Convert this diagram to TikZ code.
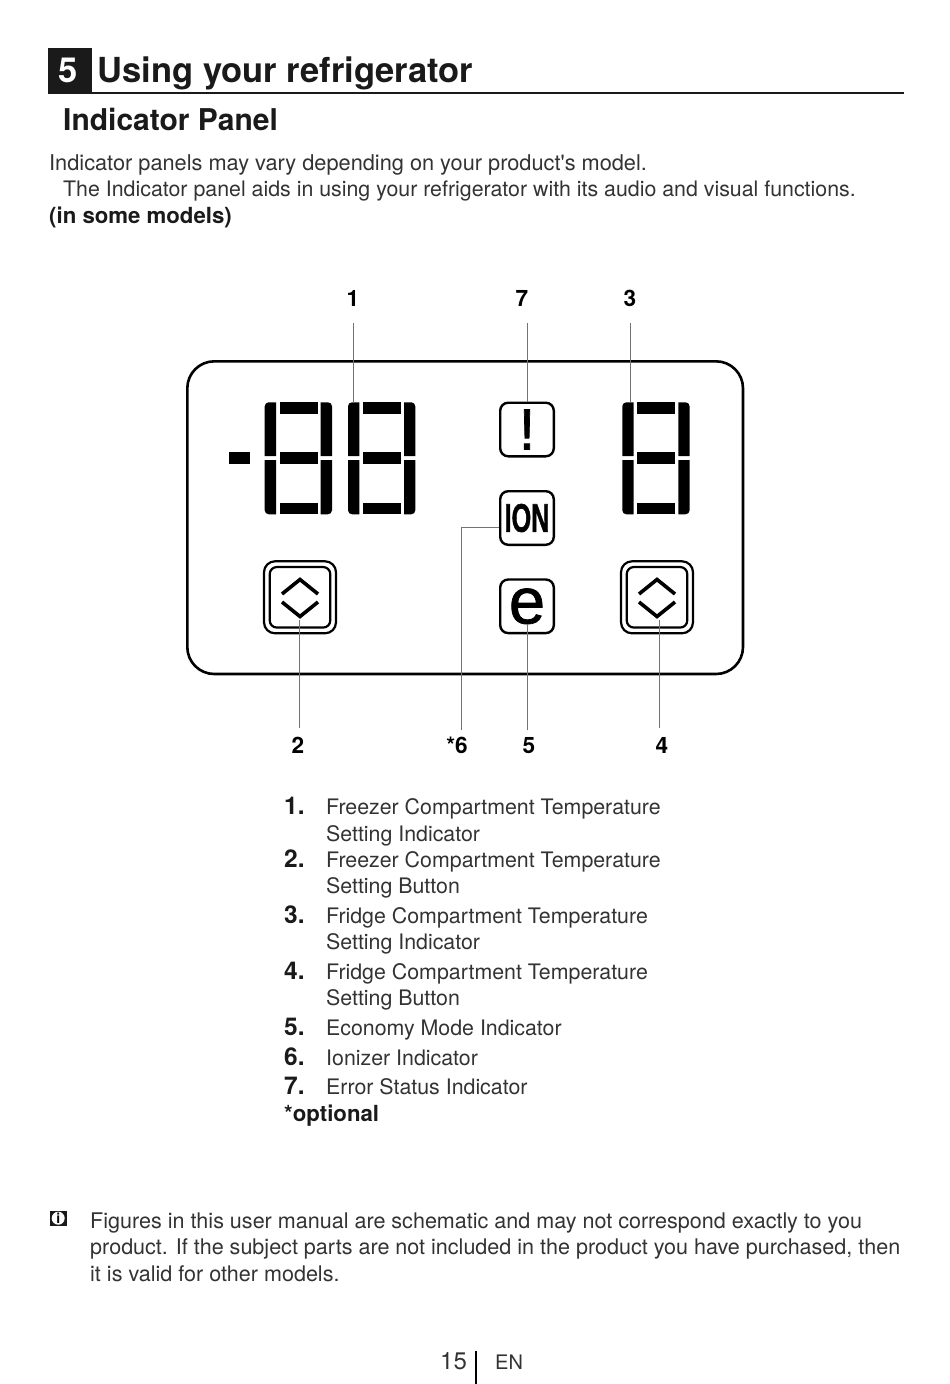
\documentclass[tikz,border=0pt]{standalone}
\usepackage{fontspec}
\setmainfont[Ligatures=TeXOff]{TeX Gyre Heros}
\newfontfamily\iconfont[FakeBold=1.2]{Liberation Sans}
\newfontfamily\ionfont[FakeBold=1.5]{Liberation Sans Bold}
\definecolor{inktext}{HTML}{333333}
\definecolor{inkdark}{HTML}{1A1A1A}
\tikzset{
  pagetext/.style={anchor=base west,inner sep=0pt,text=inktext,font=\fontsize{21.55}{24}\selectfont},
  listtext/.style={pagetext,font=\fontsize{21.35}{24}\selectfont},
  boldtext/.style={anchor=base west,inner sep=0pt,text=inkdark,font=\fontsize{22.2}{24}\selectfont\bfseries},
  numtext/.style={anchor=base west,inner sep=0pt,text=inkdark,font=\fontsize{24.5}{26}\selectfont\bfseries},
  calloutnum/.style={anchor=base,inner sep=0pt,text=black,font=\fontsize{22.6}{24}\selectfont\bfseries},
  iconbox/.style={draw=black,line width=2.4pt,rounded corners=8pt,minimum size=53.6pt,inner sep=0pt,outer sep=0pt},
  leader/.style={draw=black!55,line width=0.9pt},
  paneledge/.style={draw=black,line width=2.6pt,rounded corners=27pt}
}
\begin{document}
\begin{tikzpicture}[x=1pt,y=-1pt]
  \useasboundingbox (0,0) rectangle (950,1384);
  \fill[white] (0,0) rectangle (950,1384);
  % heading
  \fill[inkdark] (48,48) rectangle (92,93);
  \draw[inkdark,line width=2pt] (48,93) -- (904,93);
  \node[anchor=base,inner sep=0pt,text=white,font=\fontsize{34.5}{36}\selectfont\bfseries] (secnum) at (68.5,82) {5};
  \node[boldtext,font=\fontsize{34.5}{36}\selectfont\bfseries] (sectitle) at (97.5,82) {Using your refrigerator};
  \node[boldtext,font=\fontsize{30}{32}\selectfont\bfseries] (subtitle) at (63,130) {Indicator Panel};
  \node[pagetext,font=\fontsize{21.75}{24}\selectfont] (introa) at (49,170) {Indicator panels may vary depending on your product's model.};
  \node[listtext] (introb) at (63,196) {The Indicator panel aids in using your refrigerator with its audio and visual functions.};
  \node[boldtext] (introc) at (49,223) {(in some models)};
  % panel
  \draw[paneledge] (187.3,361.3) rectangle (743,674);
  \fill (228.7,452.3) rectangle (250,463.7);
  \foreach \d in {0,83.3,357.6}
    {\fill (\d+279.7,402.3) rectangle (\d+317.7,413.7);
     \fill (\d+279.7,452.3) rectangle (\d+317.7,463.7);
     \fill (\d+279.7,503) rectangle (\d+317.7,514.3);
     \fill (\d+276,456) -- (\d+264.7,456) [rounded corners=4pt] -- (\d+264.7,402.3) [sharp corners] -- (\d+276,402.3) -- cycle;
     \fill (\d+276,460) -- (\d+264.7,460) [rounded corners=4pt] -- (\d+264.7,514.3) [sharp corners] -- (\d+276,514.3) -- cycle;
     \fill (\d+320.7,456) -- (\d+332,456) [rounded corners=4pt] -- (\d+332,402.3) [sharp corners] -- (\d+320.7,402.3) -- cycle;
     \fill (\d+320.7,460) -- (\d+332,460) [rounded corners=4pt] -- (\d+332,514.3) [sharp corners] -- (\d+320.7,514.3) -- cycle;}
  \node[iconbox,font=\fontsize{58}{58}\iconfont] (errorbox) at (527,429.5) {!};
  \node[iconbox,font=\fontsize{40}{40}\ionfont] (ionbox) at (527,518) {\scalebox{.63}[1]{ION}};
  \node[iconbox,font=\fontsize{65}{65}\iconfont] (ecobox) at (527,606.3) {e};
  \foreach \n/\p in {frz/300,fdg/657}
    {\node[draw=black,line width=2.2pt,rounded corners=11pt,minimum size=72pt,inner sep=0pt] (\n outer) at (\p,597.3) {};
     \node[draw=black,line width=2.2pt,rounded corners=7pt,minimum size=60.5pt,inner sep=0pt] (\n inner) at (\p,597.3) {};
     \draw[line width=3.6pt] (\p-18,594) -- (\p,579.5) -- (\p+18,594);
     \draw[line width=3.6pt] (\p-18,602) -- (\p,616.5) -- (\p+18,602);}
  % callouts
  \foreach \n/\p/\t in {a/353/1,g/522/7,c/630/3}
    {\node[calloutnum] (num\n) at (\p,306) {\t};}
  \foreach \n/\p/\t in {b/298/2,f/457/*6,e/529/5,d/662/4}
    {\node[calloutnum] (num\n) at (\p,753) {\t};}
  \coordinate (topa) at (353.5,323);
  \coordinate (enda) at (353.5,403);
  \coordinate (topg) at (527,323);
  \coordinate (endg) at (527,402);
  \coordinate (topc) at (630.5,323);
  \coordinate (endc) at (630.5,402);
  \coordinate (botb) at (299,728);
  \coordinate (endb) at (299,620);
  \coordinate (botf) at (461.5,730);
  \coordinate (bendf) at (461.5,527);
  \coordinate (ionleft) at (499,527);
  \coordinate (bote) at (527,730);
  \coordinate (ende) at (527,624);
  \coordinate (botd) at (659,728);
  \coordinate (endd) at (659,620);
  \draw[leader] (topa) -- (enda);
  \draw[leader] (topg) -- (endg);
  \draw[leader] (topc) -- (endc);
  \draw[leader] (botb) -- (endb);
  \draw[leader] (botf) -- (bendf) -- (ionleft);
  \draw[leader] (bote) -- (ende);
  \draw[leader] (botd) -- (endd);
  % list
  \foreach \i/\y/\t in {1/814/1.,2/867/2.,3/923/3.,4/979/4.,5/1035/5.,6/1065/6.,7/1094/7.}
    {\node[numtext] (item\i) at (284,\y) {\t};}
  \foreach \i/\y/\t in {a/814/Freezer Compartment Temperature,b/841/Setting Indicator,
      c/867/Freezer Compartment Temperature,d/893/Setting Button,
      e/923/Fridge Compartment Temperature,f/949/Setting Indicator,
      g/979/Fridge Compartment Temperature,h/1005/Setting Button,
      j/1035/Economy Mode Indicator,k/1065/Ionizer Indicator,l/1094/Error Status Indicator}
    {\node[listtext] (line\i) at (326,\y) {\t};}
  \node[boldtext] (optional) at (284,1121) {*optional};
  % note
  \fill[inkdark] (49.7,1210.7) rectangle (66.7,1225.7);
  \node[circle,fill=white,minimum size=13pt,inner sep=0pt,font=\fontsize{14}{14}\selectfont\rmfamily\bfseries] (infoicon) at (58.2,1218.2) {i};
  \node[pagetext] (notea) at (90,1228) {Figures in this user manual are schematic and may not correspond exactly to you};
  \node[pagetext] (noteb) at (90,1254) {product. If the subject parts are not included in the product you have purchased, then};
  \node[pagetext] (notec) at (90,1281) {it is valid for other models.};
  % footer
  \node[pagetext,font=\fontsize{24}{26}\selectfont] (pagenum) at (440,1369) {15};
  \draw[black,line width=2pt] (476,1351) -- (476,1384);
  \node[pagetext,font=\fontsize{20}{22}\selectfont] (langcode) at (495,1369) {EN};
\end{tikzpicture}
\end{document}
